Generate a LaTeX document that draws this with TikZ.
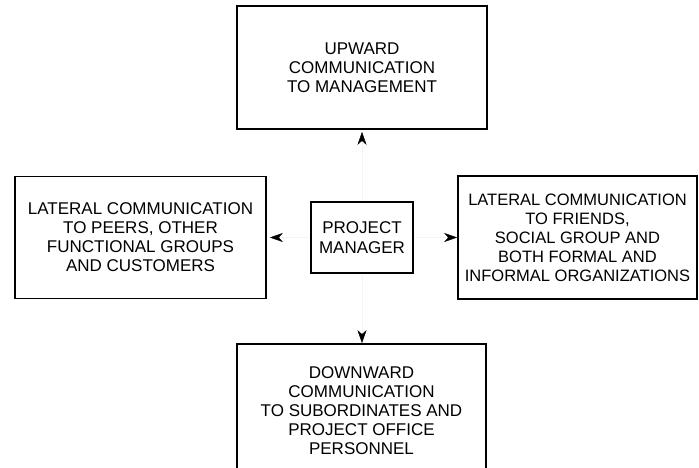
\documentclass[tikz,border=0pt]{standalone}
\usepackage{fontspec}
\setmainfont{Liberation Sans}
\usetikzlibrary{arrows.meta,positioning}

\begin{document}
\begin{tikzpicture}[
    x=1pt, y=-1pt,
    commbox/.style={rectangle, draw=black, line width=1.7pt, align=center, inner sep=0pt, font=\fontsize{17}{19}\selectfont},
    pmbox/.style={rectangle, draw=black, line width=1.7pt, align=center, inner sep=0pt, font=\fontsize{17}{19.5}\selectfont},
    flow/.style={draw=black!4, line width=0.4pt, -{Stealth[color=black, length=13pt, width=9pt, inset=4pt]}}
]

% Page frame
\useasboundingbox (0,0) rectangle (699,468);

% Project manager in the middle
\node[pmbox, minimum width=102pt, minimum height=71pt] (pm) at (362,237.5) {PROJECT\\MANAGER};

% Four directions of communication
\node[commbox, minimum width=250pt, minimum height=123pt] (up) at (362,67.5)
    {UPWARD\\COMMUNICATION\\TO MANAGEMENT};
\node[commbox, minimum width=251pt, minimum height=122pt] (peers) at (140.5,237.5)
    {LATERAL COMMUNICATION\\TO PEERS, OTHER\\FUNCTIONAL GROUPS\\AND CUSTOMERS};
\node[commbox, minimum width=239pt, minimum height=123pt, font=\fontsize{16.5}{19}\selectfont] (friends) at (577.5,237.5)
    {LATERAL COMMUNICATION\\TO FRIENDS,\\SOCIAL GROUP AND\\BOTH FORMAL AND\\INFORMAL ORGANIZATIONS};
\node[commbox, minimum width=249pt, minimum height=134pt] (down) at (361.5,411)
    {DOWNWARD\\COMMUNICATION\\TO SUBORDINATES AND\\PROJECT OFFICE\\PERSONNEL};

% Arrows out of the project manager
\draw[flow, shorten >=2pt] (pm) -- (up);
\draw[flow, shorten >=3pt] (pm) -- (peers);
\draw[flow] (pm) -- (friends);
\draw[flow] (pm) -- (down.north -| pm);

\end{tikzpicture}
\end{document}
